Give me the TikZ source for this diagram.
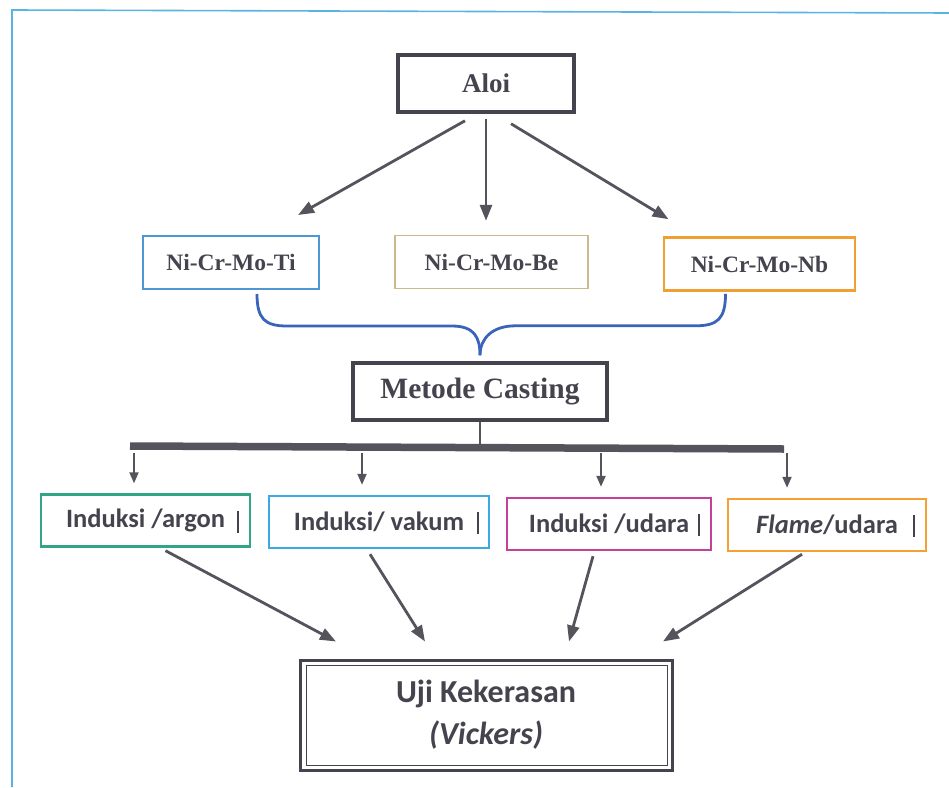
\documentclass[tikz,border=0pt]{standalone}
\usepackage{fontspec}
\setmainfont{Liberation Serif}
\newfontfamily\calfont{Carlito}
\usepackage{tikz}
\usetikzlibrary{arrows.meta}

\definecolor{ink}{HTML}{45434D}
\definecolor{edge}{HTML}{55535C}
\definecolor{framec}{RGB}{90,180,225}
\definecolor{bracec}{RGB}{58,100,185}
\definecolor{tic}{RGB}{80,150,210}
\definecolor{bec}{RGB}{205,185,140}
\definecolor{nbc}{RGB}{240,160,50}
\definecolor{argc}{RGB}{50,165,135}
\definecolor{vakc}{RGB}{60,170,225}
\definecolor{udac}{RGB}{195,65,150}
\definecolor{flac}{RGB}{245,160,50}

\begin{document}
\begin{tikzpicture}[x=1pt, y=-1pt, inner sep=0pt]% 1 unit = 1 px of the scan
\useasboundingbox (0,0) rectangle (949,787);
\tikzstyle{every node}=[text=ink, rectangle]
\tikzstyle{topbox}=[draw=ink, line width=3.5pt, font=\bfseries\fontsize{27}{30}\selectfont]
\tikzstyle{alloy}=[line width=2pt, font=\bfseries\fontsize{23.5}{26}\selectfont, minimum height=53pt]
\tikzstyle{method}=[line width=2.4pt, minimum height=52pt, font=\calfont\bfseries\fontsize{26.5}{30}\selectfont]
\tikzstyle{arr}=[edge, line width=2.8pt, -{Triangle[length=16pt,width=12pt]}]
\tikzstyle{tick}=[edge, line width=2pt, -{Triangle[length=11pt,width=9pt]}, shorten >=10pt]
\tikzstyle{brace}=[draw=bracec, line width=2.8pt]

% frame of the scan
\draw[framec, line width=1.6pt] (12,787) -- (12,10) -- (949,13);

\node[topbox, minimum width=176pt, minimum height=57pt] (aloi) at (486,83.5) {Aloi};

\node[alloy, draw=tic, minimum width=176pt] (ti) at (231,262.5) {Ni-Cr-Mo-Ti};
\node[alloy, draw=bec, line width=1.4pt, minimum width=193pt] (be) at (491.5,262) {Ni-Cr-Mo-Be};
\node[alloy, draw=nbc, line width=2.6pt, minimum width=191pt] (nb) at (759.5,264) {Ni-Cr-Mo-Nb};

\draw[arr] ([xshift=-21pt,yshift=-7pt]aloi.south) -- ([xshift=67pt,yshift=20pt]ti.north);
\draw[arr] ([yshift=-5pt]aloi.south) -- ([xshift=-5.5pt,yshift=14pt]be.north);
\draw[arr] ([xshift=25pt,yshift=-10pt]aloi.south) -- ([xshift=-91pt,yshift=17pt]nb.north);

\node[topbox, minimum width=254pt, minimum height=57pt, font=\bfseries\fontsize{29.5}{32}\selectfont] (metode) at (480,391.5) {Metode Casting};

% brace
\draw[brace] ([xshift=26pt,yshift=-4pt]ti.south) .. controls +(0,25) and +(-22,0) .. ++(30,32)
  -- ++(165,0) .. controls +(23,0) and +(0,-17) .. ([yshift=6pt]metode.north);
\draw[brace] ([xshift=-34pt,yshift=-2pt]nb.south) .. controls +(0,25) and +(22,0) .. ++(-30,32)
  -- ++(-180,0) .. controls +(-23,0) and +(0,-17) .. ([yshift=6pt]metode.north);

% bar
\coordinate (barl) at (130,446);
\coordinate (barr) at (784,449);
\draw[edge, line width=7.5pt] (barl) -- (barr);
\draw[edge, line width=2.6pt] (metode.south) -- (metode.south |- barl);

\node[method, draw=argc, minimum width=209pt] (argon) at (145.5,520.5) {Induksi /argon};
\node[method, draw=vakc, minimum width=220pt] (vakum) at (379,522) {Induksi/ vakum};
\node[method, draw=udac, minimum width=204pt] (udara) at (609,524) {Induksi /udara};
\node[method, draw=flac, minimum width=198pt] (flame) at (827,525) {\itshape Flame\upshape/udara};

\foreach \x/\n in {134/argon,362/vakum,601/udara,787/flame}
  \draw[tick] (\x,453) -- (\x,453 |- \n.north);

% little marks after the text
\foreach \n/\s in {argon/92.5,vakum/99,udara/90,flame/87}
  \draw[ink, line width=1.3pt] ([xshift=\s pt,yshift=10pt]\n.center) -- ++(0,22);

\node[draw=ink, line width=3pt, minimum width=372pt, minimum height=110pt, align=center,
  font=\calfont\bfseries\fontsize{32}{42}\selectfont] (uji) at (486,715) {Uji Kekerasan\\\itshape(Vickers)};
\draw[ink, line width=1pt] ([xshift=8pt,yshift=-7pt]uji.north west) rectangle ([xshift=-6pt,yshift=6pt]uji.south east);

\draw[arr] ([xshift=20pt,yshift=-3pt]argon.south) -- ([xshift=-150pt,yshift=17pt]uji.north);
\draw[arr] ([xshift=-9pt,yshift=-5pt]vakum.south) -- ([xshift=-61pt,yshift=17pt]uji.north);
\draw[arr] ([xshift=-16pt,yshift=-5pt]udara.south) -- ([xshift=83pt,yshift=17pt]uji.north);
\draw[arr] ([xshift=-25pt,yshift=-2pt]flame.south) -- ([xshift=177pt,yshift=17pt]uji.north);

\end{tikzpicture}
\end{document}
